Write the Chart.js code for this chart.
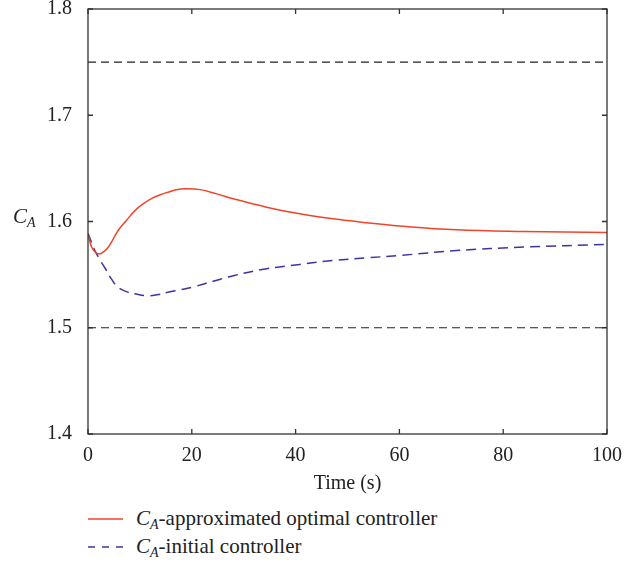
<!DOCTYPE html>
<html>
<head>
<meta charset="utf-8">
<script src="https://cdn.jsdelivr.net/npm/chart.js@4"></script>
<style>
  body { margin: 0; background: #fff; font-family: "Liberation Serif", serif; }
  #wrap { position: relative; width: 641px; height: 500px; }
  #ylab { position: absolute; left: 13px; top: 204px; font-size: 21px; font-style: italic; color: #222; }
  #ylab sub, .leg sub { font-size: 14px; vertical-align: -4px; }
  .leg { position: absolute; left: 88px; font-size: 21px; color: #222; display: flex; align-items: center; height: 26px; }
  .leg svg { margin-right: 13px; }
  .leg i { font-style: italic; }
</style>
</head>
<body>
<div id="wrap">
  <canvas id="grafica"></canvas>
  <div id="ylab">C<sub>A</sub></div>
</div>
<div class="leg" style="top:506px"><svg width="35" height="4"><line x1="0" y1="2" x2="35" y2="2" stroke="#f0452b" stroke-width="1.5"/></svg><span><i>C<sub>A</sub></i>-approximated optimal controller</span></div>
<div class="leg" style="top:534px"><svg width="35" height="4"><line x1="0" y1="2" x2="35" y2="2" stroke="#3b35a0" stroke-width="1.5" stroke-dasharray="7 7"/></svg><span><i>C<sub>A</sub></i>-initial controller</span></div>
<script>
// datos
const tiempoOptimo = [0, 0.7, 1.4, 2.1, 3, 3.9, 4.8, 5.8, 7.4, 9, 10.6, 12.3, 13.8, 15.4, 17, 18.7, 21.6, 24.8, 28, 34.4, 40.8, 47.2, 53.7, 60, 71, 84, 100]
const caOptimo = [1.588, 1.576, 1.571, 1.5695, 1.5715, 1.5758, 1.583, 1.5915, 1.601, 1.610, 1.6165, 1.6217, 1.625, 1.6276, 1.6298, 1.6308, 1.630, 1.626, 1.6214, 1.6135, 1.6072, 1.6025, 1.5988, 1.5958, 1.5922, 1.5906, 1.5896]

const tiempoInicial = [0, 1.3, 2.3, 3.3, 4.5, 5.8, 7.4, 9, 11.6, 13.5, 15.4, 18, 20.6, 24.3, 28, 34.4, 40.8, 47.2, 53.7, 60, 71, 84, 100]
const caInicial = [1.589, 1.573, 1.564, 1.556, 1.546, 1.538, 1.534, 1.532, 1.530, 1.5312, 1.5334, 1.536, 1.5388, 1.544, 1.549, 1.5555, 1.5596, 1.5633, 1.5658, 1.568, 1.5727, 1.5759, 1.5784]

const limiteSuperior = 1.75
const limiteInferior = 1.5
const xTicks = [0, 20, 40, 60, 80, 100]
const yTicks = [1.4, 1.5, 1.6, 1.7, 1.8]

const ctx = document.getElementById('grafica');

const pares = (xs, ys) => xs.map((x, i) => ({ x: x, y: ys[i] }));

// marco con ticks hacia dentro en los cuatro lados
const marco = {
    id: 'marco',
    afterDraw(chart) {
        const { ctx, chartArea: a, scales: { x, y } } = chart;
        ctx.save();
        ctx.strokeStyle = '#333';
        ctx.lineWidth = 1.3;
        ctx.strokeRect(a.left, a.top, a.right - a.left, a.bottom - a.top);
        ctx.beginPath();
        xTicks.forEach(v => {
            const px = x.getPixelForValue(v);
            ctx.moveTo(px, a.bottom); ctx.lineTo(px, a.bottom - 5);
            ctx.moveTo(px, a.top); ctx.lineTo(px, a.top + 5);
        });
        yTicks.forEach(v => {
            const py = y.getPixelForValue(v);
            ctx.moveTo(a.left, py); ctx.lineTo(a.left + 5, py);
            ctx.moveTo(a.right, py); ctx.lineTo(a.right - 5, py);
        });
        ctx.stroke();
        ctx.restore();
    }
};

new Chart(ctx, {
    type: 'line',
    data: {
        datasets: [
            {
                data: pares(tiempoOptimo, caOptimo),
                borderColor: '#f0452b',
                borderWidth: 1.5,
                tension: 0.4,
                pointRadius: 0
            },
            {
                data: pares(tiempoInicial, caInicial),
                borderColor: '#3b35a0',
                borderWidth: 1.5,
                borderDash: [10, 6],
                tension: 0.4,
                pointRadius: 0
            },
            {
                data: pares([0, 100], [limiteSuperior, limiteSuperior]),
                borderColor: '#222',
                borderWidth: 1.2,
                borderDash: [8, 5],
                pointRadius: 0
            },
            {
                data: pares([0, 100], [limiteInferior, limiteInferior]),
                borderColor: '#222',
                borderWidth: 1.2,
                borderDash: [8, 5],
                pointRadius: 0
            }
        ]
    },
    options: {
        responsive: true,
        maintainAspectRatio: false,
        animation: false,
        layout: { padding: { top: 9, right: 34, left: 0, bottom: 0 } },
        plugins: { legend: { display: false }, tooltip: { enabled: false } },
        scales: {
            x: {
                type: 'linear',
                min: 0, max: 100,
                afterBuildTicks: s => { s.ticks = xTicks.map(v => ({ value: v })); },
                grid: { display: false },
                border: { display: false },
                ticks: { color: '#222', font: { family: 'Liberation Serif', size: 20 }, padding: 2 },
                title: { display: true, text: 'Time (s)', color: '#222', font: { family: 'Liberation Serif', size: 20 }, padding: { top: 0 } },
                afterFit: s => { s.height = 66; s.paddingLeft = 0; s.paddingRight = 0; }
            },
            y: {
                min: 1.4, max: 1.8,
                afterBuildTicks: s => { s.ticks = yTicks.map(v => ({ value: v })); },
                grid: { display: false },
                border: { display: false },
                ticks: { color: '#222', font: { family: 'Liberation Serif', size: 20 }, padding: 8, callback: v => v.toFixed(1) },
                afterFit: s => { s.width = 88; s.paddingTop = 0; s.paddingBottom = 0; }
            }
        }
    },
    plugins: [marco]
});
</script>
</body>
</html>
